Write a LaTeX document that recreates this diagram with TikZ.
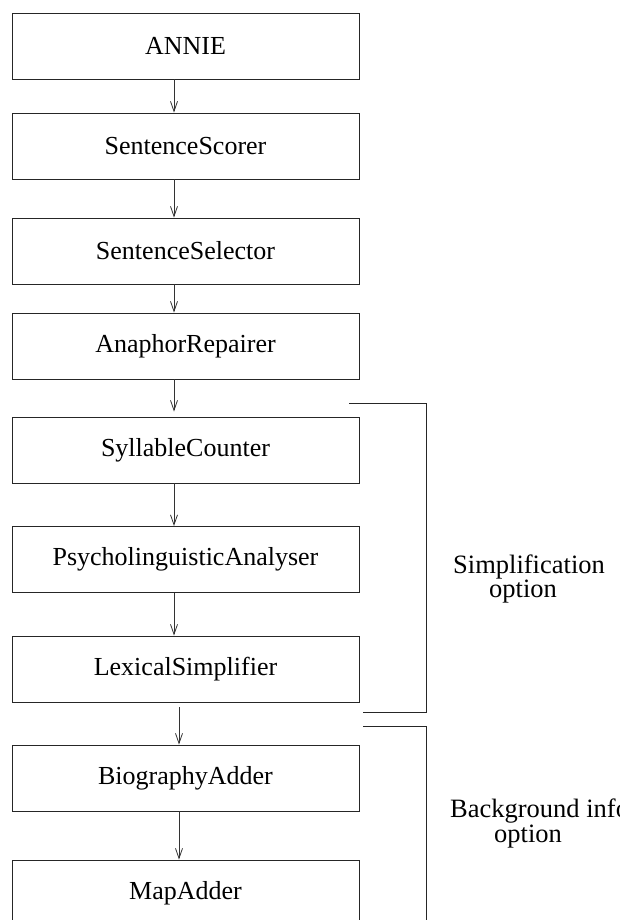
\documentclass[tikz,border=0pt]{standalone}
\usepackage{fontspec}
\setmainfont{Liberation Serif}
\usetikzlibrary{arrows.meta,calc}
\begin{document}
\begin{tikzpicture}[x=1pt,y=-1pt,
  box/.style={draw=black!85,line width=0.9pt,rectangle,minimum width=347pt,minimum height=66pt,inner sep=0pt,font=\fontsize{26}{28}\selectfont},
  conn/.style={draw=black!80,line width=0.8pt,-{Straight Barb[length=10pt,width=7pt,line width=0.8pt]}},
  bracketline/.style={draw=black!85,line width=0.9pt},
  lbl/.style={font=\fontsize{26.5}{24.5}\selectfont,align=left,anchor=base west,inner sep=0pt}]
\useasboundingbox (0,0) rectangle (619,920);
\node[box] (annie) at (185.5,46) {ANNIE};
\node[box] (scorer) at (185.5,146) {SentenceScorer};
\node[box] (selector) at (185.5,251) {SentenceSelector};
\node[box] (anaphor) at (185.5,346) {AnaphorRepairer};
\node[box] (syll) at (185.5,450) {SyllableCounter};
\node[box] (psycho) at (185.5,559.5) {PsycholinguisticAnalyser};
\node[box] (lex) at (185.5,669) {LexicalSimplifier};
\node[box] (bio) at (185.5,778) {BiographyAdder};
\node[box] (map) at (185.5,893) {MapAdder};
\coordinate (ax) at (174,0);
\coordinate (bx) at (179,0);
\draw[conn] (ax |- annie.south) -- (ax |- scorer.north);
\draw[conn] (ax |- scorer.south) -- (ax |- selector.north);
\draw[conn] (ax |- selector.south) -- (ax |- anaphor.north);
\draw[conn,shorten >=5pt] (ax |- anaphor.south) -- (ax |- syll.north);
\draw[conn] (ax |- syll.south) -- (ax |- psycho.north);
\draw[conn] (ax |- psycho.south) -- (ax |- lex.north);
\draw[conn,shorten <=5pt] (bx |- lex.south) -- (bx |- bio.north);
\draw[conn] (bx |- bio.south) -- (bx |- map.north);
\coordinate (s1) at (349,403);
\coordinate (s2) at (426,403);
\coordinate (s3) at (426,712);
\coordinate (s4) at (363,712);
\draw[bracketline] (s1) -- (s2) -- (s3) -- (s4);
\coordinate (b1) at (363,726);
\coordinate (b2) at (426,726);
\coordinate (b3) at (426,935);
\draw[bracketline] (b1) -- (b2) -- (b3);
\node[lbl] (simp) at (453,597.5) {Simplification\\\hspace*{36pt}option};
\node[lbl] (bg) at (450,842) {Background info\\\hspace*{44pt}option};
\end{tikzpicture}
\end{document}
